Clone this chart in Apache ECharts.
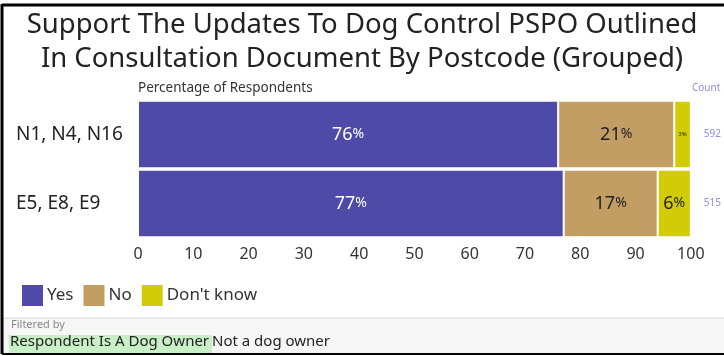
<!DOCTYPE html>
<html>
<head>
<meta charset="utf-8">
<script src="https://cdn.jsdelivr.net/npm/echarts@6/dist/echarts.min.js"></script>
<style>
html, body { margin: 0; padding: 0; background: #fff; }
#chart { width: 724px; height: 356px; }
</style>
</head>
<body>
<div id="chart"></div>
<script>
var postcodes = ['N1, N4, N16', 'E5, E8, E9'];
var yesPct = [76, 77];
var noPct = [21, 17];
var dontKnowPct = [3, 6];
var counts = ['592', '515'];
var xTicks = [0, 10, 20, 30, 40, 50, 60, 70, 80, 90, 100];

var FONT = 'Noto Sans';

function pctLabel(color) {
    return {
        show: true,
        position: 'inside',
        fontFamily: FONT,
        formatter: function (p) {
            if (p.value < 5) return '{s|' + p.value + '%}';
            return '{n|' + p.value + '}{p|%}';
        },
        rich: {
            n: { fontSize: 18, color: color, fontFamily: FONT },
            p: { fontSize: 14, color: color, fontFamily: FONT },
            s: { fontSize: 6, color: color, fontFamily: FONT }
        }
    };
}

var chart = echarts.init(document.getElementById('chart'));
var option = {
    animation: false,
    title: {
        text: 'Support The Updates To Dog Control PSPO Outlined\nIn Consultation Document By Postcode (Grouped)',
        left: 'center',
        top: 3,
        textStyle: { fontFamily: FONT, fontSize: 27.5, fontWeight: 'normal', color: '#222', lineHeight: 34 }
    },
    legend: {
        left: 15,
        top: 278,
        icon: 'rect',
        itemWidth: 23,
        itemHeight: 23,
        itemGap: 8,
        textStyle: { fontFamily: FONT, fontSize: 17, color: '#333', padding: [0, 0, 0, -2] },
        data: ['Yes', 'No', "Don't know"]
    },
    grid: { left: 138, right: 30, top: 100, bottom: 118 },
    xAxis: {
        type: 'value',
        min: 0,
        max: 100,
        interval: 10,
        axisLine: { show: false },
        axisTick: { show: false },
        splitLine: { show: false },
        axisLabel: {
            margin: 8,
            fontFamily: FONT, fontSize: 16, color: '#333',
            formatter: function (v) { return xTicks.indexOf(v) >= 0 ? String(v) : ''; }
        }
    },
    yAxis: [{
        type: 'category',
        inverse: true,
        data: postcodes,
        axisLine: { show: false },
        axisTick: { show: false },
        axisLabel: { fontFamily: FONT, fontSize: 19, color: '#222', margin: 122, align: 'left' }
    }, {
        type: 'category',
        inverse: true,
        position: 'right',
        data: counts,
        axisLine: { show: false },
        axisTick: { show: false },
        axisLabel: { fontFamily: FONT, fontSize: 10, color: '#8f8fd8', margin: 13 }
    }],
    series: [{
        name: 'Yes',
        type: 'bar',
        stack: 'pct',
        barCategoryGap: '2%',
        data: yesPct,
        itemStyle: { color: '#4f4aa8', borderColor: '#fff', borderWidth: 1 },
        label: pctLabel('#fff')
    }, {
        name: 'No',
        type: 'bar',
        stack: 'pct',
        data: noPct,
        itemStyle: { color: '#c39e64', borderColor: '#fff', borderWidth: 1 },
        label: pctLabel('#222')
    }, {
        name: "Don't know",
        type: 'bar',
        stack: 'pct',
        data: dontKnowPct,
        itemStyle: { color: '#d2cc08', borderColor: '#fff', borderWidth: 1 },
        label: pctLabel('#222')
    }],
    graphic: [
        { type: 'text', left: 138, top: 81, style: { text: 'Percentage of Respondents', fontFamily: FONT, fontSize: 13.5, fill: '#333' } },
        { type: 'text', left: 692, top: 83, style: { text: 'Count', fontFamily: FONT, fontSize: 10, fill: '#8f8fd8' } },
        { type: 'rect', shape: { x: 2, y: 318, width: 722, height: 36 }, style: { fill: '#f6f6f6', stroke: null } },
        { type: 'line', shape: { x1: 2, y1: 318, x2: 724, y2: 318 }, style: { stroke: '#d8d8d8', lineWidth: 1 } },
        { type: 'text', left: 11, top: 319, style: { text: 'Filtered by', fontFamily: FONT, fontSize: 11, fill: '#888' } },
        { type: 'rect', shape: { x: 9, y: 335, width: 203, height: 18 }, style: { fill: '#c9efc6' } },
        { type: 'text', left: 10, top: 334, style: { text: 'Respondent Is A Dog Owner', fontFamily: FONT, fontSize: 15, fill: '#222' } },
        { type: 'text', left: 212, top: 334, style: { text: 'Not a dog owner', fontFamily: FONT, fontSize: 15, fill: '#222' } },
        { type: 'line', shape: { x1: 2, y1: 5, x2: 724, y2: 5 }, style: { stroke: '#000', lineWidth: 3 } },
        { type: 'line', shape: { x1: 2, y1: 4, x2: 2, y2: 354 }, style: { stroke: '#000', lineWidth: 3 } },
        { type: 'line', shape: { x1: 2, y1: 354, x2: 724, y2: 354 }, style: { stroke: '#000', lineWidth: 2 } }
    ]
};
chart.setOption(option);
</script>
</body>
</html>
